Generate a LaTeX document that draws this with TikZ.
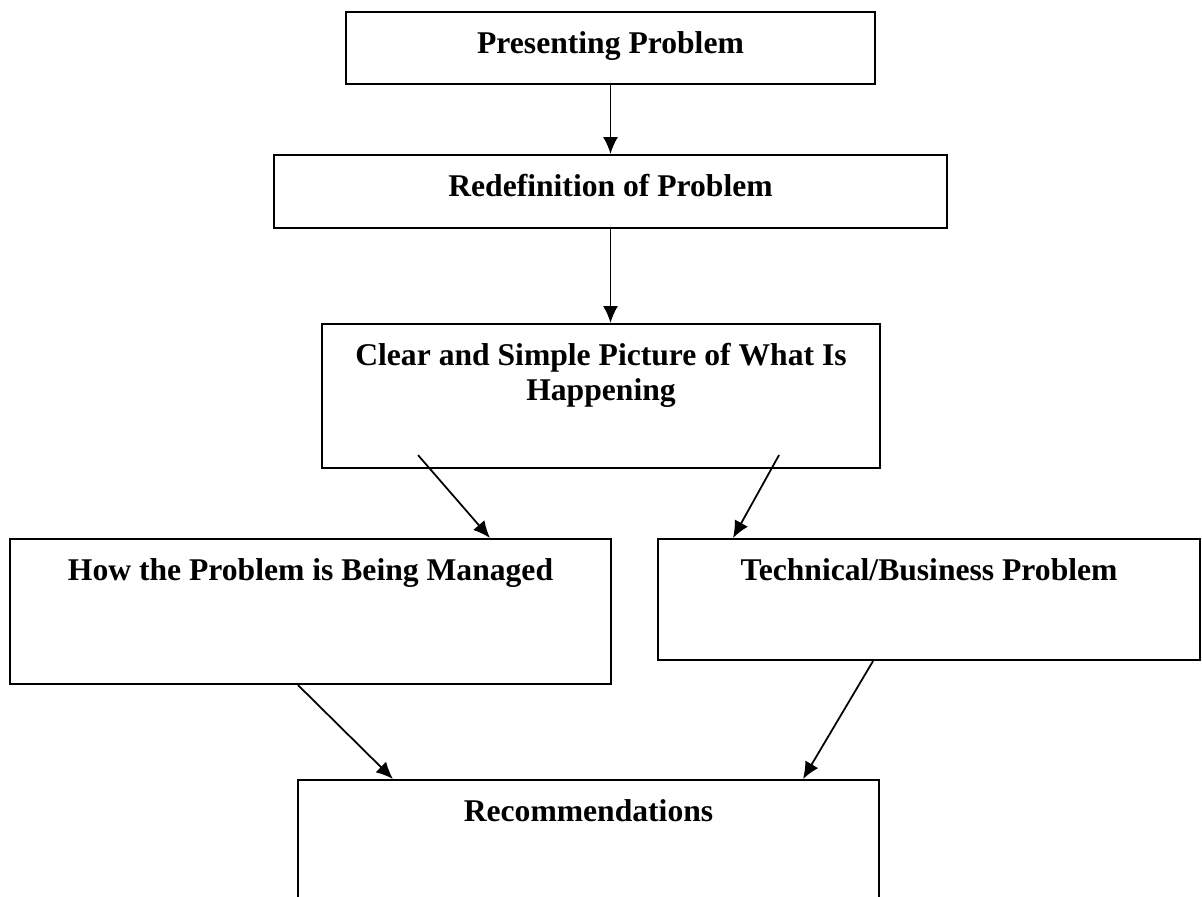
\documentclass[tikz,border=0pt]{standalone}
\usepackage{fontspec}
\setmainfont{Liberation Serif}
\usetikzlibrary{arrows.meta}
\tikzset{
  stage/.style={draw,line width=1.2pt,anchor=north,inner ysep=0pt,
    font=\fontsize{18}{20}\selectfont\bfseries,text height=0.82cm},
  flow/.style={line width=1pt,-{Latex[length=0.34cm,width=0.3cm]}}
}
\begin{document}
\begin{tikzpicture}[x=0.02cm,y=-0.02cm]
      \useasboundingbox (0,0) rectangle (1202,896);
      \clip (0,0) rectangle (1202,896);
      \node[stage,minimum width=10.58cm,text depth=0.62cm] (pres) at (610.5,11) {Presenting Problem};
      \node[stage,minimum width=13.46cm,text depth=0.64cm] (redef) at (610.5,154) {Redefinition of Problem};
      \node[stage,minimum width=11.16cm,text depth=2.06cm] (clear) at (601,323)
            {\begin{tabular}[t]{@{}c@{}}Clear and Simple Picture of What Is\\Happening\end{tabular}};
      \node[stage,minimum width=12.02cm,text depth=2.08cm] (managed) at (310.5,538) {How the Problem is Being Managed};
      \node[stage,minimum width=10.84cm,text depth=1.60cm] (tech) at (929,538) {Technical/Business Problem};
      \node[stage,minimum width=11.62cm,text depth=3.18cm] (recs) at (588.5,779) {Recommendations};
      \draw[flow] (pres.south) -- (redef.north);
      \draw[flow] (redef.south) -- (redef.south |- clear.north);
      \draw[flow] ([shift={(-183,-14)}]clear.south) -- ([shift={(179.5,0)}]managed.north);
      \draw[flow] ([shift={(178,-14)}]clear.south) -- ([shift={(-196,0)}]tech.north);
      \draw[flow] ([shift={(-12.5,0)}]managed.south) -- ([shift={(-195.5,0)}]recs.north);
      \draw[flow] ([shift={(-56,0)}]tech.south) -- ([shift={(214.5,0)}]recs.north);
\end{tikzpicture}
\end{document}
